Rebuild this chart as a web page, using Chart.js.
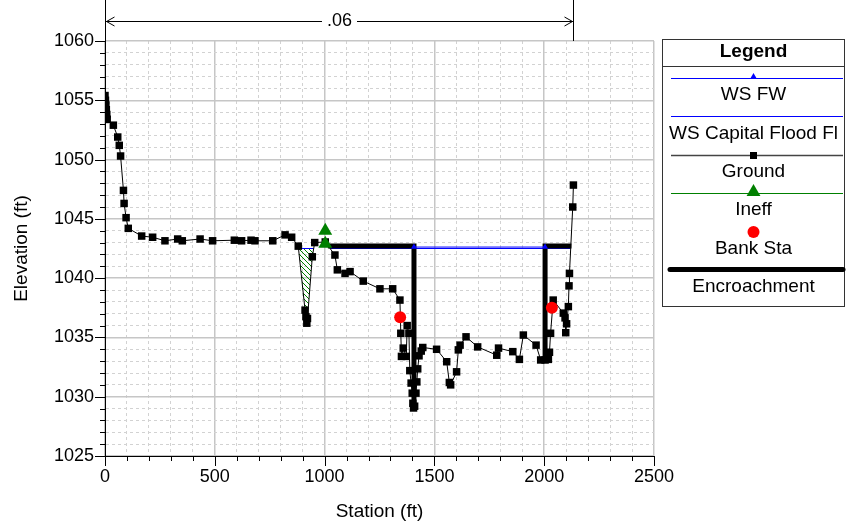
<!DOCTYPE html>
<html>
<head>
<meta charset="utf-8">
<script src="https://cdn.jsdelivr.net/npm/chart.js@4.4.0/dist/chart.umd.min.js"></script>
<style>
  body { margin: 0; background: #fff; }
</style>
</head>
<body>
<canvas id="xsChart" width="849" height="529"></canvas>
<script>
// ground profile (station ft, elevation ft)
var groundSta = [0, 2, 4, 6, 8, 10, 38, 58, 65, 71, 84, 87, 96, 106, 167, 217, 273, 331, 352, 433,
  490, 589, 622, 665, 683, 764, 820, 850, 880, 911, 915, 919, 922, 944, 955, 1003, 1047, 1058, 1093, 1116,
  1176, 1252, 1310, 1343, 1347, 1350, 1358, 1372, 1376, 1384, 1388, 1394, 1399, 1402, 1405, 1410, 1416, 1420, 1424, 1430,
  1440, 1447, 1510, 1556, 1568, 1574, 1601, 1609, 1617, 1644, 1697, 1784, 1792, 1857, 1887, 1905, 1963, 1984, 2004, 2019,
  2024, 2029, 2041, 2087, 2095, 2098, 2102, 2110, 2113, 2115, 2130, 2133];
var groundElev = [1055.4, 1055.0, 1054.6, 1054.2, 1053.8, 1053.4, 1052.9, 1051.9, 1051.2, 1050.3, 1047.4, 1046.3, 1045.1, 1044.2, 1043.55, 1043.45, 1043.15, 1043.3, 1043.15, 1043.3,
  1043.15, 1043.2, 1043.15, 1043.2, 1043.15, 1043.15, 1043.65, 1043.45, 1042.7, 1037.3, 1036.75, 1036.2, 1036.6, 1041.8, 1043.0, 1043.05, 1041.95, 1040.7, 1040.4, 1040.55,
  1039.75, 1039.1, 1039.1, 1038.15, 1035.35, 1033.4, 1034.1, 1033.4, 1036.0, 1035.35, 1032.2, 1031.15, 1030.3, 1029.45, 1029.05, 1029.2, 1030.3, 1031.25, 1032.35, 1033.45,
  1033.85, 1034.15, 1034.0, 1032.95, 1031.2, 1031.0, 1032.1, 1033.95, 1034.35, 1035.05, 1034.2, 1033.5, 1034.1, 1033.8, 1033.15, 1035.2, 1034.35, 1033.1, 1033.1, 1033.15,
  1033.75, 1035.35, 1038.15, 1037.05, 1036.65, 1035.4, 1036.15, 1037.6, 1039.35, 1040.4, 1046.0, 1047.85];

// bank stations
var bankSta = [1344, 2035];
var bankElev = [1036.7, 1037.5];

// ineffective flow markers
var ineffSta = [1003, 1003];
var ineffElev = [1044.0, 1042.9];

// ponded ineffective area in the left overbank dip
var ineffAreaSta = [881, 911, 915, 919, 922, 944, 950];
var ineffAreaElev = [1042.5, 1037.3, 1036.75, 1036.2, 1036.6, 1041.8, 1042.5];

// water surfaces
var wsFwSta = [1407, 2004];
var wsFwElev = [1042.62, 1042.62];
var wsCapSta = [881, 950, 990, 1026, 2120];
var wsCapElev = [1042.5, 1042.5, null, 1042.5, 1042.5];

// floodway encroachment
var encrSta = [1015, 1407, 1407, 1700, 2004, 2004, 2124];
var encrElev = [1042.72, 1042.72, 1029.0, null, 1033.1, 1042.72, 1042.72];

// Manning's n band
var nValue = '.06';
var nSta = [0, 2133];

var xTickLabels = [0, 500, 1000, 1500, 2000, 2500];
var yTickLabels = [1025, 1030, 1035, 1040, 1045, 1050, 1055, 1060];
var legendLabels = ['WS FW', 'WS Capital Flood Fl', 'Ground', 'Ineff', 'Bank Sta', 'Encroachment'];

function pts(sta, elev) {
  return sta.map(function (s, i) { return { x: s, y: elev[i] }; });
}

function hatchPattern() {
  var c = document.createElement('canvas');
  c.width = 5; c.height = 5;
  var g = c.getContext('2d');
  g.strokeStyle = '#008000';
  g.lineWidth = 1;
  g.beginPath();
  g.moveTo(0, 0); g.lineTo(5, 5);
  g.moveTo(-1, 4); g.lineTo(1, 6);
  g.moveTo(4, -1); g.lineTo(6, 1);
  g.stroke();
  return g.createPattern(c, 'repeat');
}

var FONT = '"Liberation Sans", Arial, sans-serif';
Chart.defaults.font.family = FONT;
Chart.defaults.font.size = 18;
Chart.defaults.color = '#000';

// tick marks, long at labelled ticks
var tickMarks = {
  id: 'tickMarks',
  afterDraw: function (chart) {
    var ctx = chart.ctx, xs = chart.scales.x, ys = chart.scales.y;
    ctx.save();
    ctx.strokeStyle = '#000';
    ctx.lineWidth = 1;
    ctx.beginPath();
    xs.ticks.forEach(function (t) {
      var px = Math.round(xs.getPixelForValue(t.value)) + 0.5;
      var len = xTickLabels.indexOf(t.value) >= 0 ? 10 : 5;
      ctx.moveTo(px, xs.top); ctx.lineTo(px, xs.top + len);
    });
    ys.ticks.forEach(function (t) {
      var py = Math.round(ys.getPixelForValue(t.value)) + 0.5;
      var len = yTickLabels.indexOf(t.value) >= 0 ? 10 : 5;
      ctx.moveTo(ys.right - len, py); ctx.lineTo(ys.right, py);
    });
    ctx.stroke();
    ctx.restore();
  }
};

// n value dimension above the plot
var nBand = {
  id: 'nBand',
  afterDraw: function (chart) {
    var ctx = chart.ctx, xs = chart.scales.x, top = chart.chartArea.top;
    var x1 = Math.round(xs.getPixelForValue(nSta[0])) + 0.5;
    var x2 = Math.round(xs.getPixelForValue(nSta[1])) + 0.5;
    var y = 21.5, mid = (x1 + x2) / 2;
    ctx.save();
    ctx.strokeStyle = '#000';
    ctx.lineWidth = 1;
    ctx.font = '18px ' + FONT;
    var half = ctx.measureText(nValue).width / 2 + 5;
    ctx.beginPath();
    ctx.moveTo(x1, 0); ctx.lineTo(x1, top);
    ctx.moveTo(x2, 0); ctx.lineTo(x2, top);
    ctx.moveTo(x1, y); ctx.lineTo(mid - half, y);
    ctx.moveTo(mid + half, y); ctx.lineTo(x2, y);
    ctx.moveTo(x1 + 9, y - 4.5); ctx.lineTo(x1 + 1, y); ctx.lineTo(x1 + 9, y + 4.5);
    ctx.moveTo(x2 - 9, y - 4.5); ctx.lineTo(x2 - 1, y); ctx.lineTo(x2 - 9, y + 4.5);
    ctx.stroke();
    ctx.fillStyle = '#000';
    ctx.textAlign = 'center';
    ctx.textBaseline = 'middle';
    ctx.fillText(nValue, mid, y);
    ctx.restore();
  }
};

function tri(ctx, x, y, r) {
  ctx.beginPath();
  ctx.moveTo(x, y - r);
  ctx.lineTo(x + r * 0.866, y + r / 2);
  ctx.lineTo(x - r * 0.866, y + r / 2);
  ctx.closePath();
  ctx.fill();
}

// boxed legend on the right
var boxLegend = {
  id: 'boxLegend',
  afterDraw: function (chart) {
    var ctx = chart.ctx;
    var L = 662.5, R = 844.5, T = 39.5, B = 306.5, cx = (L + R) / 2;
    var x1 = 671, x2 = 843;
    ctx.save();
    ctx.strokeStyle = '#333';
    ctx.lineWidth = 1;
    ctx.strokeRect(L, T, R - L, B - T);
    ctx.beginPath(); ctx.moveTo(L, 66.5); ctx.lineTo(R, 66.5); ctx.stroke();

    ctx.fillStyle = '#000';
    ctx.textAlign = 'center';
    ctx.textBaseline = 'middle';
    ctx.font = 'bold 19px ' + FONT;
    ctx.fillText('Legend', cx, 52);

    function hline(y, color, w) {
      ctx.strokeStyle = color; ctx.lineWidth = w;
      ctx.beginPath(); ctx.moveTo(x1, y); ctx.lineTo(x2, y); ctx.stroke();
    }
    // WS FW
    hline(78.5, '#0000ff', 1);
    ctx.fillStyle = '#0000ff'; tri(ctx, cx, 77, 4);
    // WS Capital
    hline(116.5, '#0000ff', 1);
    // Ground
    hline(155.5, '#444', 1.5);
    ctx.fillStyle = '#000'; ctx.fillRect(cx - 3.5, 152, 7, 7);
    // Ineff
    hline(193.5, '#008000', 1);
    ctx.fillStyle = '#008000'; tri(ctx, cx, 192, 8);
    // Bank Sta
    ctx.fillStyle = '#ff0000';
    ctx.beginPath(); ctx.arc(cx, 232, 6, 0, Math.PI * 2); ctx.fill();
    // Encroachment
    ctx.strokeStyle = '#000'; ctx.lineWidth = 5; ctx.lineCap = 'round';
    ctx.beginPath(); ctx.moveTo(670, 269.5); ctx.lineTo(843, 269.5); ctx.stroke();

    ctx.fillStyle = '#000';
    ctx.font = '19px ' + FONT;
    var ys = [95, 134, 172, 210, 249, 287];
    legendLabels.forEach(function (t, i) { ctx.fillText(t, cx, ys[i]); });
    ctx.restore();
  }
};

var isMajorX = function (c) { return c.tick && xTickLabels.indexOf(c.tick.value) >= 0; };
var isMajorY = function (c) { return c.tick && yTickLabels.indexOf(c.tick.value) >= 0; };

var ctx = document.querySelector('#xsChart');
var myChart = new Chart(ctx, {
  type: 'line',
  data: {
    datasets: [{
      label: 'Bank Sta',
      data: pts(bankSta, bankElev),
      showLine: false,
      pointStyle: 'circle',
      pointRadius: 6,
      pointBorderWidth: 0,
      pointBackgroundColor: '#ff0000'
    }, {
      label: 'Ineff',
      data: pts(ineffSta, ineffElev),
      showLine: false,
      pointStyle: 'triangle',
      pointRadius: 8,
      pointBorderWidth: 0,
      pointBackgroundColor: '#008000'
    }, {
      label: 'WS FW',
      data: pts(wsFwSta, wsFwElev),
      borderColor: '#0000ff',
      borderWidth: 1,
      pointStyle: 'triangle',
      pointRadius: 3.5,
      pointBorderWidth: 0,
      pointBackgroundColor: '#0000ff'
    }, {
      label: 'Ground',
      data: pts(groundSta, groundElev),
      borderColor: '#000',
      borderWidth: 1,
      pointStyle: 'rect',
      pointRadius: 5.3,
      pointBorderWidth: 0,
      pointBackgroundColor: '#000'
    }, {
      label: 'Encroachment',
      data: pts(encrSta, encrElev),
      borderColor: '#000',
      borderWidth: 5,
      borderJoinStyle: 'miter',
      pointRadius: 0
    }, {
      label: 'WS Capital Flood Fl',
      data: pts(wsCapSta, wsCapElev),
      borderColor: '#0000ff',
      borderWidth: 1,
      pointRadius: 0
    }, {
      label: 'Ineff area',
      data: pts(ineffAreaSta, ineffAreaElev),
      borderWidth: 0,
      borderColor: 'rgba(0,0,0,0)',
      backgroundColor: hatchPattern(),
      fill: { value: 1042.5 },
      pointRadius: 0
    }]
  },
  options: {
    responsive: false,
    animation: false,
    events: [],
    layout: { padding: { left: 0, top: 41, right: 195, bottom: 0 } },
    plugins: {
      legend: { display: false },
      tooltip: { enabled: false }
    },
    scales: {
      x: {
        type: 'linear',
        min: 0,
        max: 2500,
        afterFit: function (s) { s.height = 73; },
        ticks: {
          stepSize: 100,
          autoSkip: false,
          maxRotation: 0,
          padding: 10,
          callback: function (v) { return xTickLabels.indexOf(v) >= 0 ? String(v) : ''; }
        },
        grid: {
          drawTicks: false,
          color: function (c) { return isMajorX(c) ? '#c6c6c6' : '#d2d2d2'; },
          lineWidth: function (c) { return isMajorX(c) ? 1.5 : 1; }
        },
        border: {
          color: '#000',
          width: 1,
          dash: function (c) { return c.tick && !isMajorX(c) ? [3, 3] : []; }
        },
        title: { display: true, text: 'Station (ft)', font: { size: 19 }, padding: { top: 0, bottom: 6 } }
      },
      y: {
        type: 'linear',
        min: 1025,
        max: 1060,
        afterFit: function (s) { s.width = 105; },
        ticks: {
          stepSize: 1,
          autoSkip: false,
          padding: 11,
          callback: function (v) { return yTickLabels.indexOf(v) >= 0 ? String(v) : ''; }
        },
        grid: {
          drawTicks: false,
          color: function (c) { return isMajorY(c) ? '#c6c6c6' : '#d2d2d2'; },
          lineWidth: function (c) { return isMajorY(c) ? 1.5 : 1; }
        },
        border: {
          color: '#000',
          width: 1,
          dash: function (c) { return c.tick && !isMajorY(c) ? [3, 3] : []; }
        },
        title: { display: true, text: 'Elevation (ft)', font: { size: 19 }, padding: { top: 10, bottom: 0 } }
      }
    }
  },
  plugins: [tickMarks, nBand, boxLegend]
});
</script>
</body>
</html>
